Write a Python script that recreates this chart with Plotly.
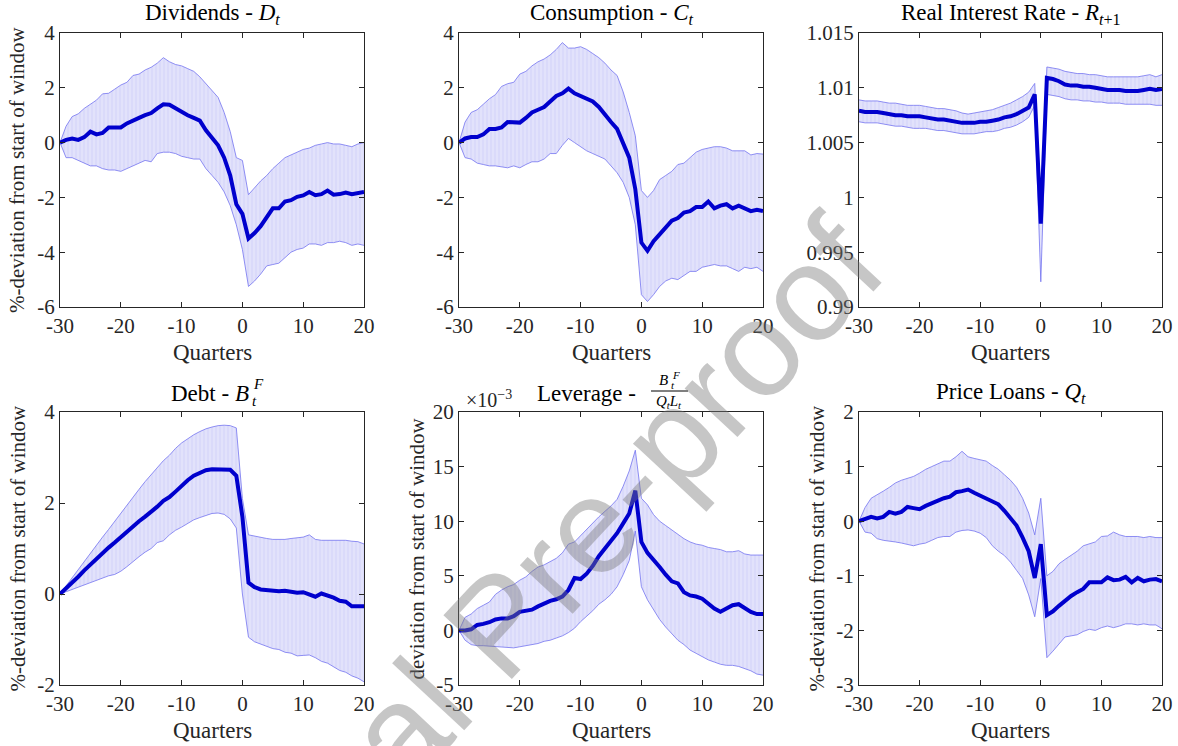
import plotly.graph_objects as go

W, H = 1178, 746

quarters = list(range(-30, 21))

# ---------------- Dividends ----------------
div_med = [0, 0.1, 0.15, 0.1, 0.2, 0.4, 0.3, 0.35, 0.55, 0.55, 0.55, 0.7, 0.82, 0.9, 1.0, 1.08, 1.25, 1.4, 1.38,
           1.25, 1.1, 1.0, 0.9, 0.8, 0.45, 0.2, -0.1, -0.55, -1.2, -2.25, -2.6, -3.5, -3.3, -3.05, -2.7, -2.4,
           -2.4, -2.15, -2.1, -1.98, -1.93, -1.8, -1.92, -1.88, -1.75, -1.9, -1.88, -1.82, -1.88, -1.83, -1.8]
div_up = [0, 0.6, 0.95, 1.05, 1.25, 1.4, 1.55, 1.78, 1.8, 1.95, 2.1, 2.2, 2.45, 2.5, 2.65, 2.75, 2.9, 3.1, 2.95,
          2.85, 2.8, 2.7, 2.6, 2.4, 2.15, 1.9, 1.65, 1.1, 0.4, -0.55, -0.65, -1.9, -1.65, -1.4, -1.2, -0.95,
          -0.75, -0.55, -0.45, -0.35, -0.25, -0.2, -0.1, -0.05, 0.0, -0.05, -0.05, -0.1, -0.15, -0.05, 0.0]
div_lo = [0, -0.55, -0.55, -0.65, -0.75, -0.85, -0.85, -0.95, -1.0, -1.0, -1.05, -0.95, -0.85, -0.75, -0.65,
          -0.7, -0.4, -0.35, -0.35, -0.4, -0.5, -0.55, -0.6, -0.6, -0.95, -1.2, -1.45, -1.8, -2.3, -3.0, -3.9,
          -5.25, -5.05, -4.8, -4.5, -4.45, -4.4, -4.2, -4.0, -3.9, -3.85, -3.7, -3.7, -3.75, -3.65, -3.65,
          -3.6, -3.65, -3.75, -3.7, -3.75]

# ---------------- Consumption ----------------
con_med = [0, 0.15, 0.2, 0.2, 0.3, 0.5, 0.5, 0.55, 0.75, 0.75, 0.73, 0.9, 1.1, 1.2, 1.3, 1.5, 1.7, 1.8, 1.97,
           1.8, 1.7, 1.6, 1.5, 1.3, 1.0, 0.75, 0.5, 0.0, -0.55, -1.7, -3.65, -3.95, -3.6, -3.35, -3.1, -2.85,
           -2.75, -2.55, -2.5, -2.35, -2.35, -2.15, -2.4, -2.3, -2.25, -2.4, -2.3, -2.4, -2.5, -2.45, -2.5]
con_up = [0, 0.75, 1.1, 1.2, 1.4, 1.6, 1.75, 2.05, 2.15, 2.2, 2.5, 2.6, 2.8, 2.95, 3.05, 3.2, 3.4, 3.65, 3.45,
          3.45, 3.5, 3.4, 3.25, 3.1, 2.9, 2.65, 2.45, 1.85, 1.1, 0.25, -1.75, -2.0, -1.75, -1.35, -1.2, -1.05,
          -0.8, -0.75, -0.55, -0.35, -0.25, -0.2, -0.15, -0.15, -0.2, -0.3, -0.3, -0.3, -0.45, -0.4, -0.42]
con_lo = [0, -0.55, -0.6, -0.75, -0.8, -0.85, -0.85, -0.88, -0.92, -0.85, -0.92, -0.8, -0.7, -0.7, -0.6, -0.4,
          -0.4, -0.1, 0.15, 0.0, -0.15, -0.3, -0.4, -0.5, -0.6, -0.85, -1.1, -1.45, -2.0, -3.0, -5.55, -5.8,
          -5.55, -5.25, -5.05, -4.95, -5.0, -4.85, -4.7, -4.7, -4.55, -4.5, -4.45, -4.5, -4.5, -4.6, -4.7,
          -4.55, -4.6, -4.55, -4.7]

# ---------------- Real interest rate ----------------
rir_med = [1.0079, 1.0078, 1.0078, 1.0078, 1.0077, 1.0076, 1.0075, 1.0075, 1.0074, 1.0074, 1.0074, 1.0073,
           1.0072, 1.0071, 1.0071, 1.0070, 1.0069, 1.0068, 1.0068, 1.0068, 1.0069, 1.0069, 1.0070, 1.0071,
           1.0073, 1.0074, 1.0076, 1.0079, 1.0082, 1.0094, 0.9976, 1.0109, 1.0108, 1.0106, 1.0103, 1.0102,
           1.0102, 1.0101, 1.0101, 1.0100, 1.0099, 1.0098, 1.0098, 1.0098, 1.0097, 1.0097, 1.0097, 1.0098,
           1.0099, 1.0098, 1.0099]
rir_up = [1.0089, 1.0088, 1.0088, 1.0088, 1.0087, 1.0086, 1.0086, 1.0085, 1.0084, 1.0084, 1.0084, 1.0083,
          1.0082, 1.0081, 1.0081, 1.0080, 1.0079, 1.0077, 1.0076, 1.0077, 1.0078, 1.0079, 1.0080, 1.0082,
          1.0084, 1.0086, 1.0089, 1.0092, 1.0096, 1.0104, 0.9980, 1.0119, 1.0118, 1.0117, 1.0115, 1.0114,
          1.0113, 1.0113, 1.0112, 1.0112, 1.0111, 1.0110, 1.0110, 1.0110, 1.0110, 1.0110, 1.0110, 1.0111,
          1.0112, 1.0110, 1.0112]
rir_lo = [1.0069, 1.0068, 1.0068, 1.0068, 1.0067, 1.0066, 1.0065, 1.0065, 1.0064, 1.0063, 1.0063, 1.0063,
          1.0062, 1.0061, 1.0061, 1.0060, 1.0059, 1.0058, 1.0058, 1.0058, 1.0059, 1.0060, 1.0060, 1.0061,
          1.0063, 1.0064, 1.0066, 1.0069, 1.0073, 1.0084, 0.9923, 1.0094, 1.0093, 1.0092, 1.0090, 1.0089,
          1.0089, 1.0088, 1.0088, 1.0087, 1.0087, 1.0086, 1.0086, 1.0086, 1.0085, 1.0085, 1.0085, 1.0085,
          1.0085, 1.0084, 1.0084]

# ---------------- Debt ----------------
dbt_med = [0, 0.12, 0.25, 0.38, 0.52, 0.65, 0.78, 0.9, 1.02, 1.13, 1.25, 1.37, 1.48, 1.6, 1.7, 1.8, 1.92, 2.05,
           2.13, 2.25, 2.38, 2.5, 2.6, 2.67, 2.72, 2.74, 2.74, 2.74, 2.73, 2.6, 1.7, 0.25, 0.15, 0.1, 0.08, 0.06,
           0.06, 0.07, 0.05, 0.03, 0.04, 0.0, -0.06, 0.01, -0.03, -0.08, -0.15, -0.17, -0.27, -0.28, -0.27]
dbt_up = [0, 0.18, 0.37, 0.55, 0.72, 0.9, 1.08, 1.25, 1.42, 1.6, 1.78, 1.95, 2.12, 2.3, 2.47, 2.63, 2.78, 2.93,
          3.05, 3.2, 3.32, 3.42, 3.5, 3.57, 3.63, 3.67, 3.7, 3.71, 3.7, 3.65, 2.1, 1.3, 1.27, 1.25, 1.22, 1.2,
          1.2, 1.2, 1.22, 1.23, 1.25, 1.3, 1.2, 1.18, 1.18, 1.17, 1.17, 1.18, 1.16, 1.15, 1.1]
dbt_lo = [0, 0.05, 0.1, 0.15, 0.2, 0.25, 0.3, 0.35, 0.4, 0.43, 0.5, 0.6, 0.72, 0.82, 0.92, 1.0, 1.13, 1.17,
          1.3, 1.4, 1.47, 1.55, 1.63, 1.68, 1.72, 1.77, 1.78, 1.75, 1.65, 1.45, 0.0, -0.95, -1.05, -1.1, -1.15,
          -1.2, -1.22, -1.28, -1.3, -1.36, -1.35, -1.34, -1.4, -1.48, -1.52, -1.6, -1.68, -1.72, -1.8, -1.85,
          -1.93]

# ---------------- Leverage (x 10^-3) ----------------
lev_med = [0, 0.0, 0.1, 0.5, 0.6, 0.75, 1.0, 1.1, 1.1, 1.3, 1.7, 1.8, 1.9, 2.2, 2.5, 2.7, 2.85, 3.1, 3.7, 4.8,
           4.7, 5.2, 5.9, 6.8, 7.5, 8.2, 8.9, 9.8, 10.7, 12.8, 8.1, 7.1, 6.5, 5.8, 5.1, 4.5, 4.3, 3.5, 3.2, 3.1,
           2.9, 2.4, 2.0, 1.7, 2.0, 2.3, 2.4, 2.0, 1.7, 1.5, 1.5]
lev_up = [0, 1.2, 1.5, 2.0, 2.3, 2.6, 3.3, 3.7, 4.0, 4.2, 4.6, 4.9, 5.4, 5.8, 6.0, 6.3, 6.6, 7.1, 7.9, 8.1, 8.7,
          9.2, 9.8, 10.4, 10.9, 11.4, 12.0, 13.2, 14.6, 16.5, 12.1, 11.5, 10.6, 10.0, 9.6, 9.2, 8.8, 8.4, 8.1,
          7.9, 7.8, 7.6, 7.5, 7.4, 7.2, 7.2, 7.3, 7.0, 6.9, 6.9, 6.9]
lev_lo = [0, -0.9, -1.3, -1.4, -1.4, -1.45, -1.45, -1.5, -1.6, -1.6, -1.5, -1.4, -1.3, -1.2, -1.0, -0.9, -0.7,
          -0.5, -0.2, 0.2, 0.8, 1.3, 1.8, 2.4, 2.8, 3.3, 4.0, 5.1, 6.4, 9.1, 4.0, 2.8, 1.9, 1.0, 0.3, -0.3,
          -0.9, -1.3, -1.8, -2.1, -2.4, -2.7, -2.9, -3.1, -3.2, -3.2, -3.3, -3.5, -3.7, -4.0, -4.1]

# ---------------- Price loans ----------------
prc_med = [0, 0.05, 0.08, 0.05, 0.08, 0.17, 0.14, 0.17, 0.26, 0.24, 0.22, 0.28, 0.33, 0.38, 0.42, 0.45, 0.53,
           0.55, 0.58, 0.52, 0.47, 0.42, 0.36, 0.31, 0.19, 0.06, -0.08, -0.3, -0.55, -1.04, -0.42, -1.72,
           -1.65, -1.55, -1.45, -1.37, -1.3, -1.24, -1.12, -1.12, -1.12, -1.03, -1.08, -1.07, -1.02, -1.12,
           -1.04, -1.1, -1.07, -1.06, -1.1]
prc_up = [0, 0.25, 0.42, 0.48, 0.55, 0.62, 0.7, 0.75, 0.78, 0.82, 0.88, 0.95, 1.0, 1.05, 1.1, 1.1, 1.18, 1.28,
          1.18, 1.15, 1.12, 1.1, 1.02, 0.95, 0.85, 0.75, 0.62, 0.42, 0.15, -0.25, 0.42, -1.0, -0.92, -0.78,
          -0.7, -0.62, -0.55, -0.45, -0.42, -0.38, -0.28, -0.27, -0.2, -0.25, -0.28, -0.28, -0.28, -0.3,
          -0.28, -0.3, -0.3]
prc_lo = [0, -0.2, -0.22, -0.32, -0.35, -0.36, -0.38, -0.4, -0.42, -0.45, -0.42, -0.4, -0.35, -0.3, -0.28,
          -0.28, -0.2, -0.17, -0.16, -0.18, -0.22, -0.3, -0.45, -0.55, -0.63, -0.75, -0.9, -1.05, -1.35, -1.75,
          -1.05, -2.5, -2.38, -2.25, -2.12, -2.1, -2.08, -2.02, -1.98, -2.0, -1.95, -1.92, -1.95, -1.92,
          -1.88, -1.88, -1.9, -1.88, -1.9, -1.9, -1.97]

x_tickvals = [-30, -20, -10, 0, 10, 20]
x_ticktext = ["-30", "-20", "-10", "0", "10", "20"]

y_ticks_a = [-6, -4, -2, 0, 2, 4]
y_text_a = ["-6", "-4", "-2", "0", "2", "4"]
y_ticks_r = [0.99, 0.995, 1.0, 1.005, 1.01, 1.015]
y_text_r = ["0.99", "0.995", "1", "1.005", "1.01", "1.015"]
y_ticks_d = [-2, 0, 2, 4]
y_text_d = ["-2", "0", "2", "4"]
y_ticks_l = [-5, 0, 5, 10, 15, 20]
y_text_l = ["-5", "0", "5", "10", "15", "20"]
y_ticks_p = [-3, -2, -1, 0, 1, 2]
y_text_p = ["-3", "-2", "-1", "0", "1", "2"]

titles = ["Dividends - <i>D</i><sub><i>t</i></sub>",
          "Consumption - <i>C</i><sub><i>t</i></sub>",
          "Real Interest Rate - <i>R</i><sub><i>t</i>+1</sub>",
          "",
          "",
          "Price Loans - <i>Q</i><sub><i>t</i></sub>"]
ylabel = "%-deviation from start of window"
ylabel_lev = "deviation from start of window"
xlabel = "Quarters"

panels = [
    (div_med, div_up, div_lo, [-6, 4], y_ticks_a, y_text_a),
    (con_med, con_up, con_lo, [-6, 4], y_ticks_a, y_text_a),
    (rir_med, rir_up, rir_lo, [0.99, 1.015], y_ticks_r, y_text_r),
    (dbt_med, dbt_up, dbt_lo, [-2, 4], y_ticks_d, y_text_d),
    (lev_med, lev_up, lev_lo, [-5, 20], y_ticks_l, y_text_l),
    (prc_med, prc_up, prc_lo, [-3, 2], y_ticks_p, y_text_p),
]

# pixel boxes (left, right, top, bottom)
boxes = [(60, 364, 33, 307), (459, 763, 33, 307), (859, 1162, 33, 307),
         (60, 364, 412, 685), (459, 763, 412, 685), (859, 1162, 412, 685)]

FONT = "'Liberation Serif', 'DejaVu Serif', 'Times New Roman', serif"
AX = "#262626"
BAND_EDGE = "rgb(115,115,240)"
BAND_FILL = "rgb(218,218,250)"
MED = "rgb(0,0,205)"

def px(x):
    return x / W

def py(y):
    return 1 - y / H

fig = go.Figure()
annotations = []

def note(x, y, text, size, color="black", xanchor="center", **kw):
    annotations.append(dict(x=px(x), y=py(y), xref="paper", yref="paper", text=text, showarrow=False,
                            font=dict(family=kw.pop("family", FONT), size=size, color=color),
                            xanchor=xanchor, yanchor="middle", **kw))

for i, ((med, up, lo, yr, yt, ytt), (l, r, t, b)) in enumerate(zip(panels, boxes)):
    n = i + 1
    xa = "x" if n == 1 else f"x{n}"
    ya = "y" if n == 1 else f"y{n}"
    fig.add_trace(go.Scatter(x=quarters, y=lo, mode="lines", xaxis=xa, yaxis=ya,
                             line=dict(color=BAND_EDGE, width=0.8), showlegend=False, hoverinfo="skip"))
    fig.add_trace(go.Scatter(x=quarters, y=up, mode="lines", xaxis=xa, yaxis=ya, fill="tonexty",
                             fillcolor=BAND_FILL,
                             fillpattern=dict(shape="|", bgcolor=BAND_FILL, fgcolor="rgb(232,232,252)",
                                              size=4, solidity=0.3),
                             line=dict(color=BAND_EDGE, width=0.8), showlegend=False, hoverinfo="skip"))
    fig.add_trace(go.Scatter(x=quarters, y=med, mode="lines", xaxis=xa, yaxis=ya,
                             line=dict(color=MED, width=4), showlegend=False))
    axcommon = dict(showline=True, linecolor=AX, linewidth=1, mirror="ticks", ticks="inside", ticklen=5,
                    tickcolor=AX, showgrid=False, zeroline=False, automargin=False,
                    tickfont=dict(family=FONT, size=21, color=AX))
    fig.layout[f"xaxis{n if n > 1 else ''}"] = dict(domain=[px(l), px(r)], anchor=ya, range=[-30, 20],
                                                    tickvals=x_tickvals, ticktext=x_ticktext, **axcommon)
    fig.layout[f"yaxis{n if n > 1 else ''}"] = dict(domain=[py(b), py(t)], anchor=xa, range=yr,
                                                    tickvals=yt, ticktext=ytt, **axcommon)
    cx = (l + r) / 2
    if titles[i]:
        note(cx, t - 19, titles[i], 23)
    note(cx, b + 45, xlabel, 23, color=AX)

# y labels
for (l, r, t, b), txt in [(boxes[0], ylabel), (boxes[3], ylabel), (boxes[4], ylabel_lev), (boxes[5], ylabel)]:
    note(l - 43, (t + b) / 2, txt, 21, color=AX, textangle=-90)

# Debt title with stacked super/subscript
note(251, 393, "Debt - <i>B</i>", 23, xanchor="right")
note(251, 384, "<i>F</i>", 15, xanchor="left")
note(250, 401, "<i>t</i>", 15, xanchor="left")

# Leverage title with fraction
note(586, 393, "Leverage -", 23)
note(670, 380, "<i>B</i>", 15, xanchor="right")
note(670, 375, "<i>F</i>", 11, xanchor="left")
note(669, 385, "<i>t</i>", 11, xanchor="left")
note(669, 402, "<i>Q</i><sub><i>t</i></sub><i>L</i><sub><i>t</i></sub>", 15)
note(489, 399, "\u00d710<sup>\u22123</sup>", 20, color=AX)

# watermark
note(498, 625, "Journal Pre-proof", 136, color="rgba(120,120,120,0.42)", textangle=-47,
     family="'Liberation Sans', Arial, sans-serif")

fig.update_layout(
    template="none",
    width=W, height=H, margin=dict(l=0, r=0, t=0, b=0, autoexpand=False),
    paper_bgcolor="white", plot_bgcolor="white",
    annotations=annotations,
    shapes=[dict(type="line", xref="paper", yref="paper", x0=px(651), x1=px(688), y0=py(391), y1=py(391),
                 line=dict(color="black", width=1))],
    showlegend=False,
)

fig.write_html("out.html", config={"displayModeBar": False},
               post_script="document.body.style.margin='0px';document.body.style.overflow='hidden';")
